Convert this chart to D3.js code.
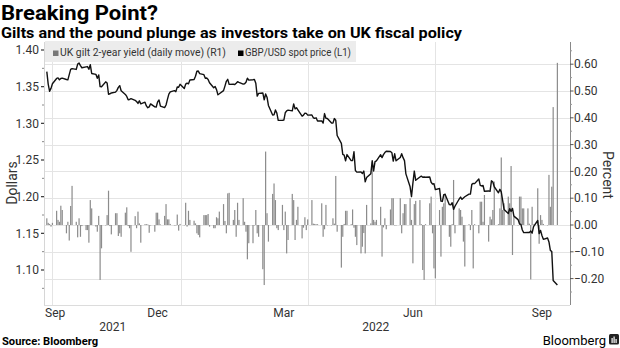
<!DOCTYPE html>
<html><head><meta charset="utf-8">
<script src="https://cdn.jsdelivr.net/npm/d3@7/dist/d3.min.js"></script>
<style>body{margin:0;background:#fff}svg{display:block}</style>
</head><body><svg id="chart" width="620" height="348"></svg>
<script>
// ---------- DATA ----------
const firstDay = "2021-09-27";   // first business day shown
const domainStart = "2021-09-25";
const domainEnd = "2022-10-05";

// GBP/USD spot price (L1), one value per business day (Mon..Fri)
const gbpUsd = [
1.3705,1.3535,1.3437,1.3477,1.3540,
1.3612,1.3619,1.3593,1.3612,1.3617,
1.3598,1.3593,1.3665,1.3735,1.3746,
1.3735,1.3807,1.3822,1.3787,1.3758,
1.3770,1.3774,1.3737,1.3800,1.3680,
1.3668,1.3615,1.3660,1.3500,1.3498,
1.3566,1.3551,1.3397,1.3403,1.3414,
1.3425,1.3450,1.3490,1.3514,1.3444,
1.3394,1.3367,1.3322,1.3325,1.3336,
1.3313,1.3298,1.3272,1.3308,1.3265,
1.3288,1.3238,1.3213,1.3224,1.3265,
1.3224,1.3223,1.3293,1.3318,1.3235,
1.3215,1.3250,1.3327,1.3398,1.3428,
1.3445,1.3432,1.3496,1.3491,1.3532,
1.3475,1.3535,1.3548,1.3538,1.3590,
1.3597,1.3642,1.3711,1.3713,1.3677,
1.3664,1.3614,1.3618,1.3598,1.3553,
1.3485,1.3503,1.3460,1.3390,1.3403,
1.3446,1.3507,1.3573,1.3600,1.3531,
1.3532,1.3530,1.3548,1.3568,1.3559,
1.3535,1.3539,1.3560,1.3616,1.3589,
1.3595,1.3599,1.3547,1.3371,1.3408,
1.3414,1.3320,1.3400,1.3356,1.3244,
1.3114,1.3115,1.3182,1.3139,1.3040,
1.3040,1.3045,1.3144,1.3170,1.3180,
1.3170,1.3264,1.3197,1.3213,1.3183,
1.3097,1.3112,1.3139,1.3136,1.3112,
1.3113,1.3076,1.3068,1.3075,1.3032,
1.3034,1.3003,1.3133,1.3069,1.3066,
1.3005,1.3003,1.3065,1.3042,1.2834,
1.2727,1.2576,1.2566,1.2488,1.2574,
1.2491,1.2493,1.2613,1.2357,1.2334,
1.2336,1.2316,1.2350,1.2202,1.2260,
1.2314,1.2490,1.2350,1.2478,1.2489,
1.2572,1.2533,1.2573,1.2602,1.2620,
1.2616,1.2600,1.2485,1.2585,1.2489,
1.2535,1.2585,1.2532,1.2492,1.2311,
1.2134,1.2001,1.2185,1.2349,1.2223,
1.2268,1.2280,1.2265,1.2268,1.2265,
1.2268,1.2196,1.2171,1.2178,1.2096,
1.2112,1.1940,1.1935,1.2026,1.2031,
1.1891,1.1888,1.1917,1.1827,1.1869,
1.1968,1.1994,1.1963,1.1983,1.1999,
1.2035,1.2035,1.2167,1.2181,1.2178,
1.2242,1.2155,1.2146,1.2152,1.2074,
1.2078,1.2073,1.2216,1.2200,1.2135,
1.2053,1.2100,1.2065,1.1946,1.1826,
1.1770,1.1837,1.1798,1.1840,1.1735,
1.1687,1.1630,1.1622,1.1545,1.1510,
1.1512,1.1512,1.1531,1.1502,1.1591,
1.1675,1.1496,1.1540,1.1470,1.1418,
1.1436,1.1382,1.1268,1.1252,1.0858,
1.0795
];

// UK gilt 2-year yield, daily move in percentage points (R1)
const giltMove = [
0.025,0.008,0.004,-0.006,0.008,
0.053,0.019,0.012,0.072,0.056,
-0.031,0.012,-0.058,0.071,0.146,
0.012,-0.046,0.025,-0.044,-0.004,
-0.019,-0.019,-0.066,0.093,0.062,
-0.006,-0.025,0.034,-0.205,-0.087,
0.000,0.037,0.128,-0.004,-0.035,
0.044,0.044,-0.041,-0.031,-0.044,
0.046,0.066,-0.004,-0.012,-0.100,
0.033,-0.012,0.050,0.006,-0.066,
0.003,0.003,0.002,-0.029,-0.001,
-0.025,0.046,0.046,0.021,0.002,
0.034,0.078,0.021,0.021,0.004,
0.000,0.000,0.039,-0.021,0.004,
0.000,0.083,-0.006,0.053,0.019,
0.016,0.006,-0.031,-0.037,-0.046,
0.037,0.037,0.037,0.041,-0.006,
-0.012,-0.012,0.029,0.025,0.050,
0.078,0.015,-0.031,0.118,0.120,
0.019,0.056,-0.044,0.083,0.019,
0.100,0.012,-0.025,-0.128,-0.068,
-0.068,0.000,0.056,-0.031,-0.044,
-0.165,-0.224,0.274,0.044,-0.062,
0.116,0.155,0.093,-0.012,-0.019,
0.075,-0.019,0.050,-0.106,-0.056,
0.116,0.093,-0.056,0.019,0.068,
-0.050,-0.010,0.029,-0.019,0.021,
0.093,0.005,0.004,0.003,0.003,
0.081,-0.044,-0.016,0.075,0.000,
0.000,0.025,0.005,0.183,-0.025,
-0.159,-0.044,0.004,0.053,0.053,
0.003,0.058,-0.010,-0.044,-0.075,
-0.106,-0.081,-0.030,-0.106,0.075,
0.006,0.236,0.019,0.012,0.019,
0.068,-0.118,-0.009,0.025,-0.016,
0.058,0.100,0.100,0.000,0.000,
0.100,-0.031,0.044,0.078,0.078,
0.100,0.019,-0.143,0.078,0.090,
0.093,0.003,-0.168,-0.205,0.003,
0.081,0.106,-0.031,-0.162,-0.199,
0.056,-0.118,0.068,0.081,0.118,
-0.044,-0.081,0.003,0.168,-0.031,
0.062,0.056,0.031,-0.062,-0.155,
0.003,-0.019,0.056,-0.162,0.003,
-0.031,0.087,0.087,0.012,0.112,
-0.062,0.031,0.021,0.056,0.162,
0.003,0.062,0.252,0.056,0.081,
0.106,0.081,0.220,-0.112,0.031,
0.000,0.106,0.106,0.062,0.062,
0.062,0.005,-0.203,0.068,0.002,
0.137,-0.070,0.037,0.019,0.004,
0.000,0.187,0.068,0.143,0.440,
0.605
];

const leftTicks = [1.10,1.15,1.20,1.25,1.30,1.35,1.40];
const leftMinor = [1.075,1.125,1.175,1.225,1.275,1.325,1.375];
const rightTicks = [-0.2,-0.1,0.0,0.1,0.2,0.3,0.4,0.5,0.6];
const rightMinor = [-0.25,-0.15,-0.05,0.05,0.15,0.25,0.35,0.45,0.55,0.65];
const monthTickDates = ["2021-09-15","2021-12-15","2022-03-15","2022-06-15","2022-09-15"];
const monthTickLabels = ["Sep","Dec","Mar","Jun","Sep"];
const gridDates = ["2021-10-01","2022-01-01","2022-04-01","2022-07-01"];
const yearLabels = ["2021","2022"];
const yearStarts = ["2021-01-01","2022-01-01"];

const titleText = "Breaking Point?";
const subtitleText = "Gilts and the pound plunge as investors take on UK fiscal policy";
const legendItems = ["UK gilt 2-year yield (daily move) (R1)", "GBP/USD spot price (L1)"];
const sourceText = "Source: Bloomberg";

// ---------- LAYOUT ----------
const parse = d3.timeParse("%Y-%m-%d");
const W = 620, H = 348;
const L = 44, R = 570, T = 42, B = 305;
const FONT = "Roboto, 'Open Sans', 'DejaVu Sans', sans-serif";

// business days
const days = [];
{ let d = parse(firstDay); while (days.length < gbpUsd.length) { const wd = d.getDay(); if (wd !== 0 && wd !== 6) days.push(new Date(d)); d = d3.timeDay.offset(d, 1); } }

const x = d3.scaleTime().domain([parse(domainStart), parse(domainEnd)]).range([L, R]);
const yL = d3.scaleLinear().domain([1.10, 1.40]).range([270, 50]);
const yR = d3.scaleLinear().domain([-0.2, 0.6]).range([278.6, 64.2]);

const svg = d3.select("#chart");
svg.append("rect").attr("width", W).attr("height", H).attr("fill", "#fff");

function fitW(sel, w) {
  sel.each(function () {
    const len = this.getComputedTextLength();
    if (Math.abs(len - w) > 0.5) d3.select(this).attr("textLength", w).attr("lengthAdjust", "spacingAndGlyphs");
  });
}

// title / subtitle
svg.append("text").attr("x", 1).attr("y", 20).text(titleText)
  .attr("font-family", FONT).attr("font-weight", 700).attr("font-size", 21).attr("fill", "#000").call(fitW, 157);
svg.append("text").attr("x", 1).attr("y", 37.5).text(subtitleText)
  .attr("font-family", FONT).attr("font-weight", 700).attr("font-size", 14).attr("fill", "#000").call(fitW, 461);

// grid
const g = svg.append("g");
g.selectAll("line.hg").data(rightTicks).join("line")
  .attr("x1", L).attr("x2", R).attr("y1", d => Math.round(yR(d)) + 0.5).attr("y2", d => Math.round(yR(d)) + 0.5)
  .attr("stroke", "#e4e4e4").attr("stroke-width", 1);
g.selectAll("line.vg").data(gridDates).join("line")
  .attr("x1", d => Math.round(x(parse(d))) + 0.5).attr("x2", d => Math.round(x(parse(d))) + 0.5)
  .attr("y1", T).attr("y2", B).attr("stroke", "#e4e4e4").attr("stroke-width", 1);
// bottom frame
g.append("line").attr("x1", L).attr("x2", R).attr("y1", B + 0.5).attr("y2", B + 0.5).attr("stroke", "#dcdcdc");

// legend box
svg.append("rect").attr("x", L + 1).attr("y", T - 1).attr("width", 311).attr("height", 21).attr("fill", "#ececec");
const lg = svg.append("g").attr("font-family", FONT).attr("font-size", 11).attr("fill", "#333");
lg.append("rect").attr("x", 53).attr("y", 50.5).attr("width", 5.5).attr("height", 5.5).attr("fill", "#777");
lg.append("text").attr("x", 60).attr("y", 56).text(legendItems[0]).call(fitW, 166);
lg.append("rect").attr("x", 238).attr("y", 50.5).attr("width", 5.5).attr("height", 5.5).attr("fill", "#000");
lg.append("text").attr("x", 245).attr("y", 56).text(legendItems[1]).call(fitW, 106);

// bars
const clip = svg.append("clipPath").attr("id", "plot").append("rect").attr("x", L).attr("y", T).attr("width", R - L).attr("height", B - T);
const plot = svg.append("g").attr("clip-path", "url(#plot)");
plot.selectAll("rect.bar").data(giltMove).join("rect")
  .attr("x", (d, i) => x(days[i]) - 0.6)
  .attr("width", 1.2)
  .attr("y", d => Math.min(yR(d), yR(0)))
  .attr("height", d => Math.max(0.4, Math.abs(yR(d) - yR(0))))
  .attr("fill", "#8c8c8c");

// line
plot.append("path").datum(gbpUsd)
  .attr("d", d3.line().x((d, i) => x(days[i])).y(d => yL(d)))
  .attr("fill", "none").attr("stroke", "#111").attr("stroke-width", 1.4).attr("stroke-linejoin", "round");

// left axis
const ax = svg.append("g").attr("font-family", FONT);
ax.append("line").attr("x1", L + 0.5).attr("x2", L + 0.5).attr("y1", T).attr("y2", B).attr("stroke", "#d6d6d6");
ax.selectAll("line.lt").data(leftTicks).join("line")
  .attr("x1", L - 3).attr("x2", L).attr("y1", d => yL(d)).attr("y2", d => yL(d)).attr("stroke", "#333").attr("stroke-width", 1.2);
ax.selectAll("line.lm").data(leftMinor).join("line")
  .attr("x1", L - 2).attr("x2", L).attr("y1", d => yL(d)).attr("y2", d => yL(d)).attr("stroke", "#888").attr("stroke-width", 1);
ax.selectAll("text.ll").data(leftTicks).join("text")
  .attr("x", L - 5).attr("y", d => yL(d) + 4.2).attr("text-anchor", "end")
  .attr("font-size", 12).attr("fill", "#333").text(d => d3.format(".2f")(d));

// right axis
ax.append("line").attr("x1", R + 0.5).attr("x2", R + 0.5).attr("y1", T).attr("y2", B).attr("stroke", "#888");
ax.selectAll("line.rt").data(rightTicks).join("line")
  .attr("x1", R).attr("x2", R + 3.5).attr("y1", d => yR(d)).attr("y2", d => yR(d)).attr("stroke", "#555").attr("stroke-width", 1);
ax.selectAll("line.rm").data(rightMinor.filter(v => yR(v) > T && yR(v) < B)).join("line")
  .attr("x1", R).attr("x2", R + 2).attr("y1", d => yR(d)).attr("y2", d => yR(d)).attr("stroke", "#999").attr("stroke-width", 1);
ax.selectAll("text.rl").data(rightTicks).join("text")
  .attr("x", R + 4).attr("y", d => yR(d) + 4.2)
  .attr("font-size", 12).attr("fill", "#333").text(d => d3.format(".2f")(d));

// axis titles
ax.append("text").attr("transform", "translate(17,183) rotate(-90)").attr("text-anchor", "middle")
  .attr("font-size", 14).attr("fill", "#333").text("Dollars");
ax.append("text").attr("transform", "translate(603,175) rotate(90)").attr("text-anchor", "middle")
  .attr("font-size", 14).attr("fill", "#333").text("Percent");

// x labels
monthTickDates.forEach((ds, i) => {
  const px = x(parse(ds));
  const t = ax.append("text").attr("y", 317).attr("font-size", 12).attr("fill", "#333").text(monthTickLabels[i]);
  if (px < L + 10) t.attr("x", L + 1).attr("text-anchor", "start");
  else t.attr("x", px).attr("text-anchor", "middle");
});
yearLabels.forEach((yl, i) => {
  const a = Math.max(L, x(parse(yearStarts[i])));
  const b = i + 1 < yearStarts.length ? x(parse(yearStarts[i + 1])) : R;
  ax.append("text").attr("x", (a + Math.min(b, R)) / 2).attr("y", 331).attr("text-anchor", "middle")
    .attr("font-size", 12).attr("fill", "#333").text(yl);
});

// footer
svg.append("text").attr("x", 2).attr("y", 345).text(sourceText)
  .attr("font-family", FONT).attr("font-weight", 700).attr("font-size", 10.5).attr("fill", "#000").call(fitW, 96);
svg.append("text").attr("x", 606).attr("y", 345).attr("text-anchor", "end").text("Bloomberg")
  .attr("font-family", FONT).attr("font-size", 13).attr("fill", "#000");
const logo = svg.append("g").attr("transform", "translate(609,334)");
logo.append("rect").attr("width", 10).attr("height", 10.5).attr("rx", 1.5).attr("fill", "#222");
[[2.5,4,1.2,5],[4.5,2.5,1.2,6.5],[6.5,5,1.2,4]].forEach(b => logo.append("rect").attr("x", b[0]).attr("y", b[1]).attr("width", b[2]).attr("height", b[3]).attr("fill", "#fff"));
</script>
</body></html>
